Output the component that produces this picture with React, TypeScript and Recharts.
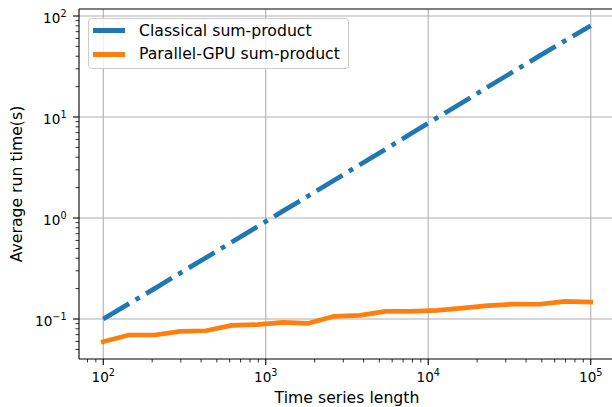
import React from 'react';
import { LineChart, Line, XAxis, YAxis, CartesianGrid } from 'recharts';

// ---- data ----
const LENGTHS = [100, 144, 207, 298, 428, 616, 886, 1274, 1833, 2637, 3793, 5456, 7848, 11288, 16238, 23357, 33598, 48329, 69519, 100000];
const CLASSICAL = [0.1, 0.142, 0.2, 0.286, 0.405, 0.575, 0.82, 1.17, 1.66, 2.37, 3.37, 4.8, 6.85, 9.8, 13.9, 19.9, 28.3, 40.3, 57.0, 80.0];
const GPU = [0.0596, 0.0695, 0.0695, 0.0755, 0.0765, 0.0866, 0.0879, 0.0928, 0.0906, 0.1064, 0.1088, 0.1192, 0.119, 0.122, 0.128, 0.1355, 0.1407, 0.14, 0.1496, 0.147];

const SERIES_NAMES = ['Classical sum-product', 'Parallel-GPU sum-product'];
const SERIES_COLORS = ['#1f77b4', '#ff7f0e'];

const X_MAJOR = [100, 1000, 10000, 100000];
const X_MINOR = [80, 90, 200, 300, 400, 500, 600, 700, 800, 900, 2000, 3000, 4000, 5000, 6000, 7000, 8000, 9000, 20000, 30000, 40000, 50000, 60000, 70000, 80000, 90000];
const Y_MAJOR = [0.1, 1, 10, 100];
const Y_MINOR = [0.05, 0.06, 0.07, 0.08, 0.09, 0.2, 0.3, 0.4, 0.5, 0.6, 0.7, 0.8, 0.9, 2, 3, 4, 5, 6, 7, 8, 9, 20, 30, 40, 50, 60, 70, 80, 90];
const X_DOMAIN = [70.9, 141100];
const Y_DOMAIN = [0.0402, 117.3];

const X_LABEL = 'Time series length';
const Y_LABEL = 'Average run time(s)';

const data = LENGTHS.map((x, i) => ({ x, classical: CLASSICAL[i], gpu: GPU[i] }));

const FONT = '"DejaVu Sans", sans-serif';
const TICK_FS = 13.6;
const SUP_FS = 9.6;
const LABEL_FS = 15.7;
const LW = 4.7;

const expText = (v: number) => {
  const e = Math.round(Math.log10(v));
  return e < 0 ? '\u2212' + Math.abs(e) : String(e);
};

function XTick(props: any) {
  const { x, y, payload } = props;
  const v = payload.value;
  const major = X_MAJOR.includes(v);
  return (
    <g>
      <line x1={x} x2={x} y1={y} y2={y + (major ? 6 : 3.5)} stroke="#000" strokeWidth={major ? 1.1 : 0.8} />
      {major && (
        <text x={x} y={y + 22.8} textAnchor="middle" fontFamily={FONT} fontSize={TICK_FS} fill="#000">
          10<tspan dy={-5.6} fontSize={SUP_FS}>{expText(v)}</tspan>
        </text>
      )}
    </g>
  );
}

function YTick(props: any) {
  const { x, y, payload } = props;
  const v = payload.value;
  const major = Y_MAJOR.includes(v);
  return (
    <g>
      <line x1={x} x2={x - (major ? 6 : 3.5)} y1={y} y2={y} stroke="#000" strokeWidth={major ? 1.1 : 0.8} />
      {major && (
        <text x={x - 12.5} y={y + 7} textAnchor="end" fontFamily={FONT} fontSize={TICK_FS} fill="#000">
          10<tspan dy={-5.6} fontSize={SUP_FS}>{expText(v)}</tspan>
        </text>
      )}
    </g>
  );
}

function XLabel(props: any) {
  const vb = props.viewBox || {};
  const cx = vb.x + vb.width / 2;
  return (
    <text x={cx} y={vb.y + 44.3} textAnchor="middle" fontFamily={FONT} fontSize={LABEL_FS} fill="#000">
      {X_LABEL}
    </text>
  );
}

function YLabel(props: any) {
  const vb = props.viewBox || {};
  const cx = vb.x + 21.5;
  const cy = vb.y + vb.height / 2;
  return (
    <text x={cx} y={cy} transform={`rotate(-90 ${cx} ${cy})`} textAnchor="middle" fontFamily={FONT} fontSize={LABEL_FS} fill="#000">
      {Y_LABEL}
    </text>
  );
}

export default function App() {
  const xTicks = [...X_MINOR, ...X_MAJOR].sort((a, b) => a - b);
  const yTicks = [...Y_MINOR, ...Y_MAJOR].sort((a, b) => a - b);
  return (
    <div style={{ position: 'absolute', left: 0, top: 0, width: 612, height: 407, overflow: 'hidden', background: '#fff' }}>
      <LineChart width={616} height={407} data={data} margin={{ top: 8, right: 1, left: 0, bottom: 0 }}>
        <CartesianGrid horizontalValues={Y_MAJOR} verticalValues={X_MAJOR} stroke="#b0b0b0" strokeWidth={1.1} />
        <XAxis
          dataKey="x"
          type="number"
          scale="log"
          domain={X_DOMAIN}
          allowDataOverflow
          ticks={xTicks}
          interval={0}
          tickSize={0}
          tickMargin={0}
          tickLine={false}
          tick={<XTick />}
          height={48}
          axisLine={{ stroke: '#000', strokeWidth: 1.1 }}
          label={<XLabel />}
        />
        <XAxis
          xAxisId="top"
          orientation="top"
          type="number"
          domain={[0, 1]}
          height={1}
          tick={false}
          tickLine={false}
          axisLine={{ stroke: '#000', strokeWidth: 1.1 }}
        />
        <YAxis
          type="number"
          scale="log"
          domain={Y_DOMAIN}
          allowDataOverflow
          ticks={yTicks}
          interval={0}
          tickSize={0}
          tickMargin={0}
          tickLine={false}
          tick={<YTick />}
          width={79}
          axisLine={{ stroke: '#000', strokeWidth: 1.1 }}
          label={<YLabel />}
        />
        <Line
          dataKey="classical"
          name={SERIES_NAMES[0]}
          stroke={SERIES_COLORS[0]}
          strokeWidth={LW}
          strokeDasharray={`${6.4 * LW} ${1.6 * LW} ${LW} ${1.6 * LW}`}
          strokeLinecap="butt"
          dot={false}
          activeDot={false}
          isAnimationActive={false}
          type="linear"
        />
        <Line
          dataKey="gpu"
          name={SERIES_NAMES[1]}
          stroke={SERIES_COLORS[1]}
          strokeWidth={LW}
          strokeLinecap="square"
          strokeLinejoin="round"
          dot={false}
          activeDot={false}
          isAnimationActive={false}
          type="linear"
        />
      </LineChart>
      <div
        style={{
          position: 'absolute',
          left: 87.5,
          top: 17.5,
          width: 261.5,
          height: 51.5,
          border: '1px solid #cccccc',
          borderRadius: 4,
          background: 'rgba(255,255,255,0.8)',
          boxSizing: 'border-box',
          fontFamily: FONT,
          fontSize: LABEL_FS,
          color: '#000',
        }}
      >
        {SERIES_NAMES.map((name, i) => (
          <React.Fragment key={name}>
            <div
              style={{
                position: 'absolute',
                left: 4.8,
                top: (i === 0 ? 30.8 : 54.4) - 18.5 - LW / 2,
                width: 31.4,
                height: LW,
                background: SERIES_COLORS[i],
              }}
            />
            <div
              style={{
                position: 'absolute',
                left: 50.5,
                top: i === 0 ? 3.1 : 26.4,
                lineHeight: '18px',
                whiteSpace: 'nowrap',
              }}
            >
              {name}
            </div>
          </React.Fragment>
        ))}
      </div>
    </div>
  );
}
